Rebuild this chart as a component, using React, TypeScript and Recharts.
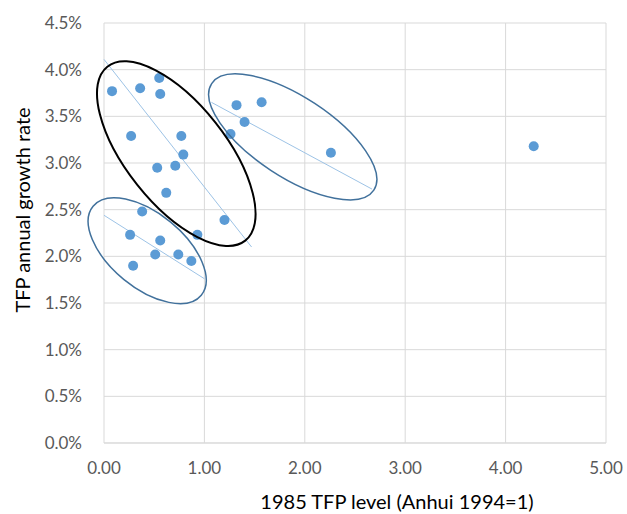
import { ScatterChart, Scatter, XAxis, YAxis, CartesianGrid, ReferenceDot } from "recharts";

// provinces grouped by the circled clusters (x = 1985 TFP level, y = annual TFP growth in %)
const groupAX = [0.08, 0.36, 0.55, 0.56, 0.27, 0.77, 0.79, 0.53, 0.71, 0.62, 1.2];
const groupAY = [3.77, 3.8, 3.91, 3.74, 3.29, 3.29, 3.09, 2.95, 2.97, 2.68, 2.39];
const groupBX = [1.32, 1.57, 1.4, 1.26, 2.26];
const groupBY = [3.62, 3.65, 3.44, 3.31, 3.11];
const groupCX = [0.38, 0.93, 0.26, 0.56, 0.51, 0.74, 0.87, 0.29];
const groupCY = [2.48, 2.23, 2.23, 2.17, 2.02, 2.02, 1.95, 1.9];
const outlierX = [4.28];
const outlierY = [3.18];

// trend line end points per group
const trendAX = [0, 1.47];
const trendAY = [4.11, 2.1];
const trendBX = [1.07, 2.67];
const trendBY = [3.65, 2.72];
const trendCX = [0, 1.0];
const trendCY = [2.44, 1.76];

const xTicks = [0, 1, 2, 3, 4, 5];
const yTicks = [0, 0.5, 1, 1.5, 2, 2.5, 3, 3.5, 4, 4.5];

// cluster outlines: centre in data units, radii in px, tilt in degrees
const ellipses = [
    { cx: 0.72, cy: 3.1, rx: 111, ry: 50, angle: 51.6, stroke: "#000000", width: 2 },
    { cx: 1.88, cy: 3.28, rx: 97, ry: 40, angle: 33.3, stroke: "#41719c", width: 1.5 },
    { cx: 0.43, cy: 2.06, rx: 70, ry: 37, angle: 39.4, stroke: "#41719c", width: 1.5 },
];

const zip = (xs: number[], ys: number[]) => xs.map((x, i) => ({ x, y: ys[i] }));

const dot = (p: any) => <circle cx={p.cx} cy={p.cy} r={5} fill="#5b9bd5" />;
const noDot = () => <g />;

const tickStyle = { fill: "#595959", fontSize: 17 };

export default function App() {
    const points = [
        ...zip(groupAX, groupAY),
        ...zip(groupBX, groupBY),
        ...zip(groupCX, groupCY),
        ...zip(outlierX, outlierY),
    ];

    return (
        <div style={{ position: "absolute", left: 0, top: 0, width: 627, height: 514, background: "#fff", fontFamily: "Lato, 'Open Sans', sans-serif" }}>
            <ScatterChart width={627} height={514} margin={{ top: 23, right: 21, left: 0, bottom: 0 }}>
                <CartesianGrid stroke="#d9d9d9" />
                <XAxis
                    type="number"
                    dataKey="x"
                    domain={[0, 5]}
                    ticks={xTicks}
                    tickFormatter={(v) => v.toFixed(2)}
                    tick={tickStyle}
                    tickLine={false}
                    tickSize={0}
                    tickMargin={19}
                    axisLine={{ stroke: "#d9d9d9" }}
                    height={71}
                    label={{
                        content: ({ viewBox }: any) => (
                            <text x={viewBox.x + viewBox.width / 2 + 42} y={viewBox.y + 58} textAnchor="middle" dominantBaseline="central" fontSize={20} fill="#000">
                                1985 TFP level (Anhui 1994=1)
                            </text>
                        ),
                    }}
                />
                <YAxis
                    type="number"
                    dataKey="y"
                    domain={[0, 4.5]}
                    ticks={yTicks}
                    tickFormatter={(v) => v.toFixed(1) + "%"}
                    tick={tickStyle}
                    tickLine={false}
                    tickSize={0}
                    tickMargin={22}
                    axisLine={false}
                    width={104}
                    label={{
                        content: ({ viewBox }: any) => (
                            <text
                                x={22}
                                y={210}
                                transform="rotate(-90, 22, 210)"
                                textAnchor="middle"
                                dominantBaseline="central"
                                fontSize={20}
                                fill="#000"
                            >
                                TFP annual growth rate
                            </text>
                        ),
                    }}
                />
                <Scatter data={zip(trendAX, trendAY)} line={{ stroke: "#9dc3e6", strokeWidth: 1 }} shape={noDot} isAnimationActive={false} />
                <Scatter data={zip(trendBX, trendBY)} line={{ stroke: "#9dc3e6", strokeWidth: 1 }} shape={noDot} isAnimationActive={false} />
                <Scatter data={zip(trendCX, trendCY)} line={{ stroke: "#9dc3e6", strokeWidth: 1 }} shape={noDot} isAnimationActive={false} />
                <Scatter data={points} shape={dot} isAnimationActive={false} />
                {ellipses.map((e, i) => (
                    <ReferenceDot
                        key={i}
                        x={e.cx}
                        y={e.cy}
                        r={0}
                        ifOverflow="visible"
                        shape={(p: any) => (
                            <ellipse
                                cx={p.cx}
                                cy={p.cy}
                                rx={e.rx}
                                ry={e.ry}
                                transform={`rotate(${e.angle}, ${p.cx}, ${p.cy})`}
                                fill="none"
                                stroke={e.stroke}
                                strokeWidth={e.width}
                            />
                        )}
                    />
                ))}
            </ScatterChart>
        </div>
    );
}
